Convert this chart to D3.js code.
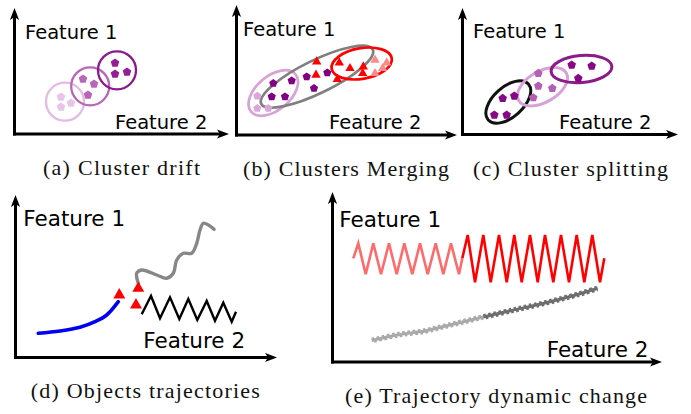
<!DOCTYPE html>
<html><head><meta charset="utf-8">
<script src="https://cdn.jsdelivr.net/npm/d3@7"></script>
<style>body{margin:0;background:#fff}svg{display:block}</style>
</head><body>
<svg id="c" width="691" height="414"></svg>
<script>
// ================= DATA (values in each panel's own feature units) =================
const captions = ["(a) Cluster drift", "(b) Clusters Merging", "(c) Cluster splitting",
                  "(d) Objects trajectories", "(e) Trajectory dynamic change"];
const axisNames = ["Feature 1", "Feature 2"];

// (a) cluster drift: three successive positions of one cluster
const driftCenters = [[50.5, 32.3], [75.7, 47.7], [102.5, 63.7]];
const driftRadii   = [19, 19, 19];
const driftPoints  = [
  [[46.5, 37], [56.5, 31], [46.5, 27]],
  [[68.5, 55], [79.5, 50], [73.5, 39]],
  [[100.5, 71], [100.5, 60], [112.5, 62]]
];

// (b) clusters merging: [cx, cy, rx, ry, tilt°]
const mergeEllipses = [[36.8, 42, 29, 17, -40], [80.5, 58.3, 62, 16.5, -26], [125.2, 71.5, 30.5, 15.3, -10]];
const mergePurple = [[36.8, 51.7], [55.2, 54.3], [70.2, 58.3], [90.8, 62.3], [77.5, 46.7], [35.2, 38.3], [48.5, 38.3]];
const mergeLilac  = [[20.8, 39], [20.8, 26.7], [31.8, 26.7]];
const mergeRed    = [[80.2, 73.3], [79.5, 60], [102.8, 72.3], [113.5, 66.7], [100.8, 55.7], [126.8, 68.3], [126.2, 61.7]];
const mergePink   = [[138.5, 75], [138.5, 61.7], [146.2, 66.7], [150.2, 72.3]];

// (c) cluster splitting: [cx, cy, rx, ry, tilt°]
const splitEllipses = [[45.8, 32.5, 27, 15, -42], [80, 47.8, 27.5, 15.5, -30], [119, 65.5, 30.5, 13.5, -5]];
const splitDark  = [[109.2, 69.5], [129.2, 68.5], [115.8, 56.2], [51.8, 38.5], [40.2, 36.2], [31.8, 19.5], [44.2, 19.5]];
const splitLight = [[75.8, 61.2], [75.8, 48.5], [89.8, 46.2], [70.8, 36.8]];

// (d) object trajectories
const trajBlue  = [[22.8, 24.2], [44.5, 26.5], [64.5, 30.2], [79.5, 35.8], [91.2, 42.5], [102.8, 55.8]];
const trajGray  = [[122.8, 74.2], [121.2, 84.2], [126.2, 87.5], [141.2, 82.5], [151.2, 79.2], [157.8, 84.2],
                   [161.2, 97.5], [167.8, 104.2], [176.2, 104.2], [181.2, 114.2], [184.5, 127.5], [187.8, 134.2],
                   [192.8, 132.5], [198.5, 128.2]];
const trajBlack = [[126.2, 43.2], [135.5, 61.5], [144.5, 39.2], [154.5, 60.2], [163.8, 38.5], [172.8, 58.5],
                   [181.8, 37.5], [191.2, 56.5], [199.5, 36.8], [207.8, 54.8], [216.2, 35.8], [220.5, 45.8]];
const trajHeads = [[103.8, 62.5], [122.8, 69.2], [120.5, 52.5]];

// (e) trajectory dynamic change
const zigLight = [[20.8, 103.7], [25.8, 118.7], [33.2, 87.7], [40.8, 118.7], [48.5, 87.7], [56.5, 118.7], [64.2, 87.7],
                  [71.8, 118.7], [79.8, 87.7], [87.5, 118.7], [95.2, 87.7], [103.2, 118.7], [110.8, 87.7],
                  [118.5, 118.7], [126.5, 87.7], [129.8, 103.7]];
const zigDark  = [[129.8, 103.7], [135.2, 127], [142.5, 79.7], [150.8, 127], [158.2, 79.7], [166.5, 127], [174.2, 79.7],
                  [181.8, 127], [189.2, 79.7], [197.5, 127], [205.2, 79.7], [212.5, 127], [220.8, 79.7],
                  [228.5, 127], [236.5, 79.7], [244.2, 127], [251.8, 79.7], [259.8, 127], [267.5, 79.7], [271.8, 103.7]];
const waveLight = [[39.2, 21.5], [65.8, 27.3], [92.5, 31], [111, 35.5], [150.8, 45]];
const waveDark  = [[150.8, 45], [179.2, 51.5], [212.5, 59], [245.8, 67.7], [265.2, 73.7]];

// ================= LAYOUT / STYLE =================
const panels = [
  {x0: 14.5,  y0: 134,   xLen: 214.5, yLen: 126,   fs: 19.5, f1: [10.5, 94.7], f2: [100.5, 5],  cap: [121.5, 175],   capW: 157},
  {x0: 236.5, y0: 135,   xLen: 220.5, yLen: 130,   fs: 19.5, f1: [6.5, 99],    f2: [92.5, 6],   cap: [346, 176],     capW: 206},
  {x0: 462.5, y0: 134.5, xLen: 215.5, yLen: 126.5, fs: 19.5, f1: [10.5, 96.8], f2: [96.5, 5.2], cap: [570.5, 176],   capW: 195},
  {x0: 15.5,  y0: 357.5, xLen: 261.5, yLen: 162.5, fs: 21.5, f1: [7.8, 131.8], f2: [127.8, 9.8], cap: [145.3, 398.3], capW: 229},
  {x0: 332.5, y0: 362,   xLen: 329.5, yLen: 170,   fs: 21.5, f1: [6.8, 135.3], f2: [214.2, 5.3], cap: [496, 403.3],   capW: 302}
];
panels.forEach(p => {
  p.x = d3.scaleLinear().domain([0, p.xLen]).range([p.x0, p.x0 + p.xLen]);
  p.y = d3.scaleLinear().domain([0, p.yLen]).range([p.y0, p.y0 - p.yLen]);
});

const svg = d3.select("#c");
const defs = svg.append("defs");
defs.append("marker").attr("id", "arr").attr("viewBox", "0 0 12 10")
  .attr("refX", 4).attr("refY", 5).attr("markerWidth", 12).attr("markerHeight", 10)
  .attr("markerUnits", "userSpaceOnUse").attr("orient", "auto")
  .append("path").attr("d", "M0,0.4 L12,5 L0,9.6 L3,5 Z").attr("fill", "#000");

const pentagon = {
  draw(ctx, size) {
    const r = Math.sqrt(size / 2.3776);
    for (let i = 0; i < 5; i++) {
      const a = -Math.PI / 2 + i * 2 * Math.PI / 5;
      if (i) ctx.lineTo(r * Math.cos(a), r * Math.sin(a)); else ctx.moveTo(r * Math.cos(a), r * Math.sin(a));
    }
    ctx.closePath();
  }
};

// axes, labels, captions
panels.forEach((p, i) => {
  const g = svg.append("g");
  g.append("line").attr("x1", p.x(0)).attr("y1", p.y(0) + 1.5).attr("x2", p.x(0)).attr("y2", p.y(p.yLen) + 8)
    .attr("stroke", "#000").attr("stroke-width", 3).attr("marker-end", "url(#arr)");
  g.append("line").attr("x1", p.x(0) - 1.5).attr("y1", p.y(0)).attr("x2", p.x(p.xLen) - 8).attr("y2", p.y(0))
    .attr("stroke", "#000").attr("stroke-width", 3).attr("marker-end", "url(#arr)");
  [p.f1, p.f2].forEach((pos, k) => {
    g.append("text").attr("x", p.x(pos[0])).attr("y", p.y(pos[1]))
      .attr("font-family", "DejaVu Sans").attr("font-size", p.fs).attr("fill", "#000").text(axisNames[k]);
  });
  g.append("text").attr("x", p.cap[0]).attr("y", p.cap[1]).attr("text-anchor", "middle")
    .attr("font-family", "Liberation Serif").attr("font-size", 22).attr("fill", "#111")
    .attr("textLength", p.capW).attr("lengthAdjust", "spacing").text(captions[i]);
});

function ellipses(p, data, colors, width) {
  svg.append("g").selectAll("ellipse").data(data).join("ellipse")
    .attr("cx", d => p.x(d[0])).attr("cy", d => p.y(d[1]))
    .attr("rx", d => p.x(d[2]) - p.x(0)).attr("ry", d => p.x(d[3]) - p.x(0))
    .attr("transform", d => `rotate(${d[4]},${p.x(d[0])},${p.y(d[1])})`)
    .attr("fill", "none").attr("stroke", (d, i) => colors[i]).attr("stroke-width", width);
}
function symbols(p, data, type, size, color) {
  svg.append("g").selectAll("path").data(data).join("path")
    .attr("transform", d => `translate(${p.x(d[0])},${p.y(d[1])})`)
    .attr("d", d3.symbol().type(type).size(size)).attr("fill", color);
}
function line(p, data, curve) {
  return d3.line().x(d => p.x(d[0])).y(d => p.y(d[1])).curve(curve)(data);
}

// (a)
{
  const p = panels[0];
  const cols = ["#e4bbe4", "#b866b8", "#8c1a8c"];
  const ptCols = ["#e8c4e8", "#b866b8", "#941f94"];
  svg.append("g").selectAll("circle").data(driftCenters).join("circle")
    .attr("cx", d => p.x(d[0])).attr("cy", d => p.y(d[1]))
    .attr("r", (d, i) => p.x(driftRadii[i]) - p.x(0))
    .attr("fill", "none").attr("stroke", (d, i) => cols[i]).attr("stroke-width", 2.3);
  driftPoints.forEach((pts, i) => symbols(p, pts, pentagon, 48, ptCols[i]));
}
// (b)
{
  const p = panels[1];
  ellipses(p, mergeEllipses, ["#d7a3d7", "#808080", "#ff0000"], [2.7]);
  symbols(p, mergePurple, pentagon, 44, "#800080");
  symbols(p, mergeLilac, pentagon, 44, "#d9a8d9");
  symbols(p, mergeRed, d3.symbolTriangle, 38, "#ff0000");
  symbols(p, mergePink, d3.symbolTriangle, 38, "#ff8a8a");
}
// (c)
{
  const p = panels[2];
  ellipses(p, splitEllipses, ["#111111", "#d7a3d7", "#8b1a8b"], 3);
  symbols(p, splitLight, pentagon, 48, "#b45fb4");
  symbols(p, splitDark, pentagon, 48, "#860886");
}
// (d)
{
  const p = panels[3];
  svg.append("path").attr("d", line(p, trajBlue, d3.curveCatmullRom)).attr("fill", "none")
    .attr("stroke", "#0000f0").attr("stroke-width", 3.6).attr("stroke-linecap", "round");
  svg.append("path").attr("d", line(p, trajGray, d3.curveCatmullRom)).attr("fill", "none")
    .attr("stroke", "#878787").attr("stroke-width", 3.4).attr("stroke-linecap", "round");
  svg.append("path").attr("d", line(p, trajBlack, d3.curveLinear)).attr("fill", "none")
    .attr("stroke", "#000").attr("stroke-width", 2.4).attr("stroke-linejoin", "miter");
  symbols(p, trajHeads, d3.symbolTriangle, 62, "#ff0000");
}
// (e)
{
  const p = panels[4];
  svg.append("path").attr("d", line(p, zigLight, d3.curveLinear)).attr("fill", "none")
    .attr("stroke", "#ff6a6a").attr("stroke-width", 2.6);
  svg.append("path").attr("d", line(p, zigDark, d3.curveLinear)).attr("fill", "none")
    .attr("stroke", "#ff0000").attr("stroke-width", 2.6);
  [[waveLight, "#aaaaaa"], [waveDark, "#6e6e6e"]].forEach(([pts, col]) => {
    const d = line(p, pts, d3.curveCatmullRom);
    const g = svg.append("g");
    g.append("path").attr("d", d).attr("fill", "none").attr("stroke", col).attr("stroke-width", 3);
    g.append("path").attr("d", d).attr("fill", "none").attr("stroke", col).attr("stroke-width", 2.8)
      .attr("stroke-dasharray", "2.6 2.6").attr("transform", "translate(0,-1.5)");
    g.append("path").attr("d", d).attr("fill", "none").attr("stroke", col).attr("stroke-width", 2.8)
      .attr("stroke-dasharray", "2.6 2.6").attr("stroke-dashoffset", 2.6).attr("transform", "translate(0,1.5)");
  });
}
</script>
</body></html>
